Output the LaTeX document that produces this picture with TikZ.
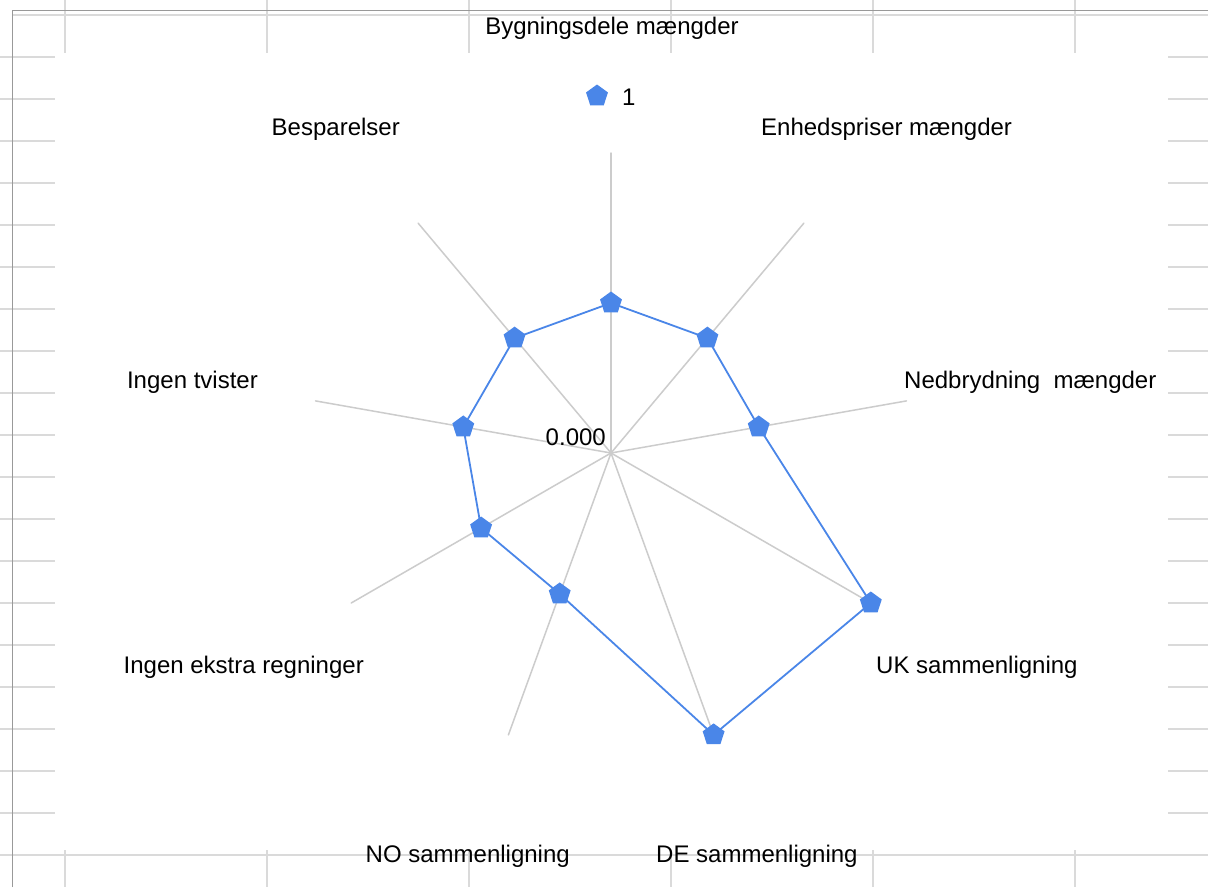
\documentclass[tikz,border=0pt]{standalone}
\usepackage{fontspec}
\setmainfont{Liberation Sans}
\usepackage{tkz-euclide}
\usetikzlibrary{positioning,shapes.geometric}
\definecolor{series}{HTML}{4A86E8}
\definecolor{spoke}{HTML}{CCCCCC}
\definecolor{cellline}{HTML}{DADADA}
\definecolor{frameline}{HTML}{999999}
\tikzset{
  datamark/.style={regular polygon,regular polygon sides=5,fill=series,
    inner sep=0pt,minimum size=23pt},
  axislabel/.style={font=\fontsize{24}{28}\selectfont,inner sep=0pt},
  sheet/.style={cellline,line width=1.8pt}
}

\begin{document}
\begin{tikzpicture}[x=1pt,y=-1pt]
\useasboundingbox[fill=white] (0,0) rectangle (1208,887);
\foreach \y in {57,99,...,813}
  \draw[sheet] (0,\y) -- (55,\y) (1168,\y) -- (1208,\y);
\foreach \x in {65,267,469,671,873,1075}
  \draw[sheet] (\x,0) -- (\x,53) (\x,850) -- (\x,887);
\draw[sheet] (12,15) -- (1208,15) (0,855) -- (1208,855);
\draw[frameline,line width=1pt] (12.5,887) -- (12.5,10.5) -- (1208,10.5);
\tkzDefPoint(611,453){O}
\begin{scope}[shift={(611,453)}]
\foreach \t/\r [count=\i] in {-90/150,-50/150,-10/150,30/300,70/300,110/150,150/150,190/150,230/150}{
  \tkzDefPoint(\t:300){E\i}
  \tkzDefPoint(\t:\r){D\i}
}
\end{scope}
\tkzDrawSegments[spoke,line width=1.5pt](O,E1 O,E2 O,E3 O,E4 O,E5 O,E6 O,E7 O,E8 O,E9)
\tkzDrawPolygon[color=series,line width=1.8pt](D1,D2,D3,D4,D5,D6,D7,D8,D9)
\foreach \i in {1,...,9}
  \node[datamark] (m\i) at (D\i) {};
\node[axislabel,anchor=mid east] (zero) at (606,443) {0.000};
\node[datamark] (key) at (597,96) {};
\node[axislabel,anchor=mid west,right=15pt of key,yshift=-1pt] (keytext) {1};
\node[axislabel,anchor=mid] (bygning) at (612,32) {Bygningsdele mængder};
\node[axislabel,anchor=mid west] (enhed) at (761,133) {Enhedspriser mængder};
\node[axislabel,anchor=mid west] (nedbryd) at (904,386) {Nedbrydning\ \ mængder};
\node[axislabel,anchor=mid west] (uk) at (876,671) {UK sammenligning};
\node[axislabel,anchor=mid west] (de) at (656,860) {DE sammenligning};
\node[axislabel,anchor=mid east] (no) at (570,860) {NO sammenligning};
\node[axislabel,anchor=mid east] (ekstra) at (364,671) {Ingen ekstra regninger};
\node[axislabel,anchor=mid east] (tvister) at (258,386) {Ingen tvister};
\node[axislabel,anchor=mid east] (besparelse) at (400,133) {Besparelser};
\end{tikzpicture}
\end{document}
